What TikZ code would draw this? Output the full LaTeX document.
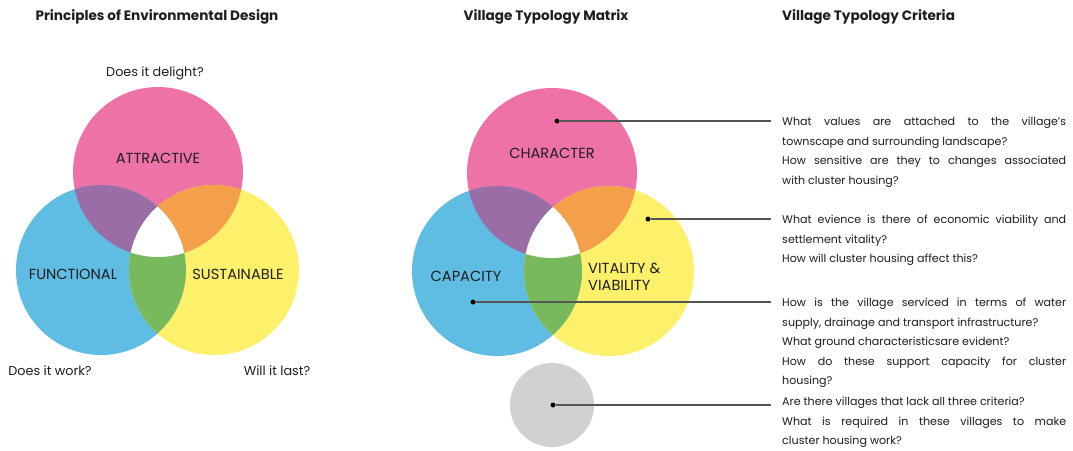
\documentclass[tikz,border=0pt]{standalone}
\usepackage{fontspec}
\setmainfont{Poppins}
\usetikzlibrary{positioning}

\definecolor{pinkc}{HTML}{EE72A6}
\definecolor{bluec}{HTML}{5FBDE3}
\definecolor{yellowc}{HTML}{FDF16C}
\definecolor{purplec}{HTML}{9A6DA7}
\definecolor{orangec}{HTML}{F49F49}
\definecolor{greenc}{HTML}{78B95E}
\definecolor{greyc}{HTML}{D2D1D2}
\definecolor{inkc}{HTML}{1E1E1E}
\definecolor{linec}{HTML}{555555}

\tikzset{
  title/.style={font=\fontsize{13.6}{16}\selectfont\bfseries, text=inkc, inner sep=0pt},
  caps/.style={font=\fontsize{14.6}{17}\selectfont, text=inkc, inner sep=0pt},
  ask/.style={font=\fontsize{12.8}{15}\selectfont, text=inkc, inner sep=0pt},
  crit/.style={font=\fontsize{11.1}{19.5}\selectfont,
    execute at begin node={\tolerance=9999 \hyphenpenalty=10000 },
    text=inkc, inner sep=0pt, text width=284pt, align=justify, anchor=north west},
  dot/.style={circle, fill=black, inner sep=0pt, minimum size=5pt},
  leader/.style={draw=linec, line width=1.1pt}
}

\begin{document}
\begin{tikzpicture}[x=1pt,y=-1pt]

      \useasboundingbox (0,0) rectangle (1073,450);
      \fill[white] (0,0) rectangle (1073,450);

      \coordinate (A) at (158,172);
      \coordinate (F) at (101,270);
      \coordinate (S) at (214,270);

      \fill[pinkc]   (A) circle (85);
      \fill[bluec]   (F) circle (85);
      \fill[yellowc] (S) circle (85);
      \begin{scope}
        \clip (A) circle (85);
        \fill[purplec] (F) circle (85);
        \fill[orangec] (S) circle (85);
      \end{scope}
      \begin{scope}
        \clip (F) circle (85);
        \fill[greenc] (S) circle (85);
      \end{scope}
      \begin{scope}
        \clip (A) circle (85);
        \clip (F) circle (85);
        \fill[white] (S) circle (85);
      \end{scope}

      \coordinate (C) at (552,173);
      \coordinate (P) at (497,271);
      \coordinate (V) at (609,271);
      \coordinate (N) at (552,405);

      \fill[pinkc]   (C) circle (85);
      \fill[bluec]   (P) circle (85);
      \fill[yellowc] (V) circle (85);
      \begin{scope}
        \clip (C) circle (85);
        \fill[purplec] (P) circle (85);
        \fill[orangec] (V) circle (85);
      \end{scope}
      \begin{scope}
        \clip (P) circle (85);
        \fill[greenc] (V) circle (85);
      \end{scope}
      \begin{scope}
        \clip (C) circle (85);
        \clip (P) circle (85);
        \fill[white] (V) circle (85);
      \end{scope}
      \fill[greyc] (N) circle (42);

      \node[title] (t1) at (157,17) {Principles of Environmental Design};
      \node[title] (t2) at (546,17) {Village Typology Matrix};
      \node[title, anchor=west] (t3) at (782,17) {Village Typology Criteria};

      \node[caps] (attr) at (158,158) {ATTRACTIVE};
      \node[caps] (func) at (73,274)  {FUNCTIONAL};
      \node[caps] (sust) at (238,274) {SUSTAINABLE};
      \node[ask]  (q1)   at (155,73)  {Does it delight?};
      \node[ask]  (q2)   at (50,371)  {Does it work?};
      \node[ask]  (q3)   at (277,371) {Will it last?};

      \node[caps] (char) at (552,153) {CHARACTER};
      \node[caps] (capa) at (466,276) {CAPACITY};
      \node[caps, align=left, anchor=west] (vita) at (588,277) {VITALITY \&\\VIABILITY};

      \node[dot] (d1) at (557,121) {};
      \node[dot] (d2) at (648,219) {};
      \node[dot] (d3) at (473,302) {};
      \node[dot] (d4) at (553,405) {};
      \coordinate (e1) at (771,121);
      \coordinate (e2) at (771,219);
      \coordinate (e3) at (771,302);
      \coordinate (e4) at (771,405);
      \draw[leader] (d1) -- (e1);
      \draw[leader] (d2) -- (e2);
      \draw[leader] (d3) -- (e3);
      \draw[leader] (d4) -- (e4);

      \node[crit] (c1) at (782,117) {What values are attached to the village’s\linebreak
        townscape and surrounding landscape?\par
        How sensitive are they to changes associated\linebreak
        with cluster housing?};
      \node[crit] (c2) at (782,215) {What evience is there of economic viability and\linebreak
        settlement vitality?\par
        How will cluster housing affect this?};
      \node[crit] (c3) at (782,298) {How is the village serviced in terms of water\linebreak
        supply, drainage and transport infrastructure?\par
        What ground characteristicsare evident?\par
        How do these support capacity for cluster\linebreak
        housing?};
      \node[crit] (c4) at (782,397) {Are there villages that lack all three criteria?\par
        What is required in these villages to make\linebreak
        cluster housing work?};

    \end{tikzpicture}
\end{document}
